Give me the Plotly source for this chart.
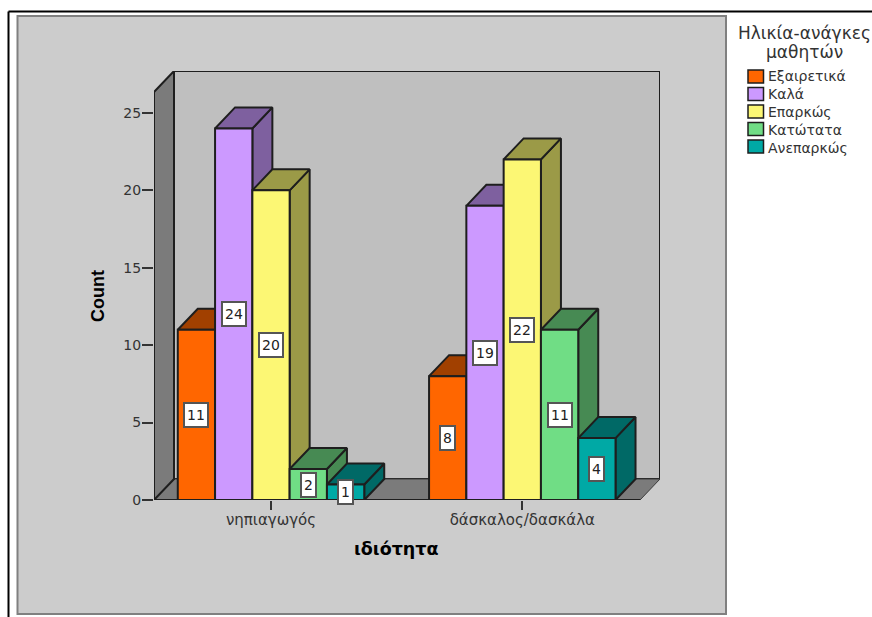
import plotly.graph_objects as go

# Counts per profession and rating
professions = ["νηπιαγωγός", "δάσκαλος/δασκάλα"]
ratings = ["Εξαιρετικά", "Καλά", "Επαρκώς", "Κατώτατα", "Ανεπαρκώς"]
excellent = [11, 8]
good = [24, 19]
adequate = [20, 22]
minimal = [2, 11]
inadequate = [1, 4]
y_ticks = [0, 5, 10, 15, 20, 25]

series = [excellent, good, adequate, minimal, inadequate]
front_colors = ["#ff6600", "#cc99ff", "#fcf774", "#70dd85", "#00a9a5"]
shade_colors = ["#a14000", "#7e609f", "#9b9a47", "#478a53", "#006966"]

INK = "#1e1e1e"
TEXT = "#333333"
FONT = "DejaVu Sans"
BOLD = "Liberation Sans"

# Extents of the pseudo-3D box, in axis units
X_MIN, X_MAX = 0.5344, 2.548
Y_MAX = 27.71
DX, DY = 0.0796, 1.357          # depth of bars and walls
BAR_W = 0.1484
FLOOR_RIGHT = X_MAX - DX

# Plot-area edges in pixels, used to place items outside the axes
PLOT_L, PLOT_W, PLOT_B, PLOT_H = 154, 506, 500, 429


def px(x):
    return (x - PLOT_L) / PLOT_W


def py(y):
    return (PLOT_B - y) / PLOT_H


def paper_note(x, y, text, font, xanchor="center", **kw):
    fig.add_annotation(xref="paper", yref="paper", x=px(x), y=py(y), text=text,
                       showarrow=False, xanchor=xanchor, yanchor="middle", font=font, **kw)


fig = go.Figure()


def face(xs, ys, fill, zorder, width=2, color=INK):
    fig.add_trace(go.Scatter(
        x=xs + xs[:1], y=ys + ys[:1], mode="lines", fill="toself",
        fillcolor=fill, line=dict(color=color, width=width),
        zorder=zorder, hoverinfo="skip", showlegend=False,
    ))


# Back wall, side wall and floor
face([X_MIN + DX, X_MAX, X_MAX, X_MIN + DX], [DY, DY, Y_MAX, Y_MAX], "#bfbfbf", 0)
face([X_MIN, FLOOR_RIGHT, X_MAX, X_MIN + DX], [0, 0, DY, DY], "#7b7b7b", 0, width=1, color="#3c3c3c")
face([X_MIN, X_MIN + DX, X_MIN + DX, X_MIN], [0, DY, Y_MAX, Y_MAX - DY], "#7b7b7b", 0)
fig.add_trace(go.Scatter(x=[X_MIN, FLOOR_RIGHT], y=[0, 0], mode="lines",
                         line=dict(color=INK, width=2), zorder=0,
                         hoverinfo="skip", showlegend=False))

# Bars: shaded top and side first, then the front from the bar trace
for i, values in enumerate(series):
    offset = (i - 2.5) * BAR_W
    for g, v in enumerate(values):
        x0 = g + 1 + offset
        x1 = x0 + BAR_W
        face([x1, x1 + DX, x1 + DX, x1], [0, DY, v + DY, v], shade_colors[i], 2 * i + 1)
        face([x0, x1, x1 + DX, x0 + DX], [v, v, v + DY, v + DY], shade_colors[i], 2 * i + 1)
    fig.add_trace(go.Bar(
        x=[1, 2], y=values, name=ratings[i], width=BAR_W, offset=offset,
        marker=dict(color=front_colors[i], line=dict(color=INK, width=2)),
        zorder=2 * i + 2, showlegend=False,
    ))
    # Value labels at the middle of each bar
    for g, v in enumerate(values):
        fig.add_annotation(
            x=g + 1 + offset + BAR_W / 2, y=v / 2, text=str(v), showarrow=False,
            xanchor="center", yanchor="middle", height=18,
            font=dict(family=FONT, size=14, color="#222222"),
            bgcolor="white", bordercolor="#555555", borderwidth=2, borderpad=2,
        )

# Axis titles
paper_note(396.5, 549, "<b>ιδιότητα</b>", dict(family=FONT, size=17.5, color="black"))
paper_note(98, 296, "<b>Count</b>", dict(family=BOLD, size=18, color="black"), textangle=-90)

# Legend heading, one note per line to keep the tight leading
heading_font = dict(family=FONT, size=17, color=TEXT)
paper_note(804, 33, "Ηλικία-ανάγκες", heading_font)
paper_note(804, 51.5, "μαθητών", heading_font)

# Outer page rule and the chart panel
shapes = [
    dict(type="line", xref="paper", yref="paper", x0=px(8.5), x1=px(872),
         y0=py(11.5), y1=py(11.5), line=dict(color="black", width=2)),
    dict(type="line", xref="paper", yref="paper", x0=px(8.5), x1=px(8.5),
         y0=py(11.5), y1=py(617), line=dict(color="black", width=2)),
    dict(type="rect", xref="paper", yref="paper", x0=px(17.5), x1=px(726),
         y0=py(16), y1=py(614), layer="below",
         fillcolor="#cccccc", line=dict(color="#808080", width=2)),
]

# Legend entries
for i, name in enumerate(ratings):
    swatch_y = 76.5 + i * 17.5
    shapes.append(dict(type="rect", xref="paper", yref="paper",
                       x0=px(748), x1=px(763.5), y0=py(swatch_y + 6.5), y1=py(swatch_y - 6.5),
                       fillcolor=front_colors[i], line=dict(color=INK, width=1.5)))
    paper_note(766, 76 + i * 18, name, dict(family=FONT, size=14, color=TEXT), xanchor="left")

fig.update_layout(
    width=872, height=617, autosize=False,
    margin=dict(l=154, r=212, t=71, b=117),
    paper_bgcolor="white", plot_bgcolor="rgba(0,0,0,0)",
    barmode="overlay", showlegend=False, shapes=shapes,
    font=dict(family=FONT, size=13, color=TEXT),
    xaxis=dict(range=[X_MIN, X_MAX], tickmode="array", tickvals=[1, 2], ticktext=professions,
               ticks="outside", ticklen=9, tickwidth=2, tickcolor="#333333",
               ticklabelstandoff=-3,
               showgrid=False, zeroline=False, showline=False,
               tickfont=dict(family=FONT, size=15, color=TEXT)),
    yaxis=dict(range=[0, Y_MAX], tickmode="array", tickvals=y_ticks,
               ticks="outside", ticklen=11, tickwidth=2, tickcolor="#333333",
               ticklabelstandoff=-2,
               showgrid=False, zeroline=False, showline=False,
               tickfont=dict(family=FONT, size=14, color=TEXT)),
)

fig.write_html("out.html", config={"displayModeBar": False})
